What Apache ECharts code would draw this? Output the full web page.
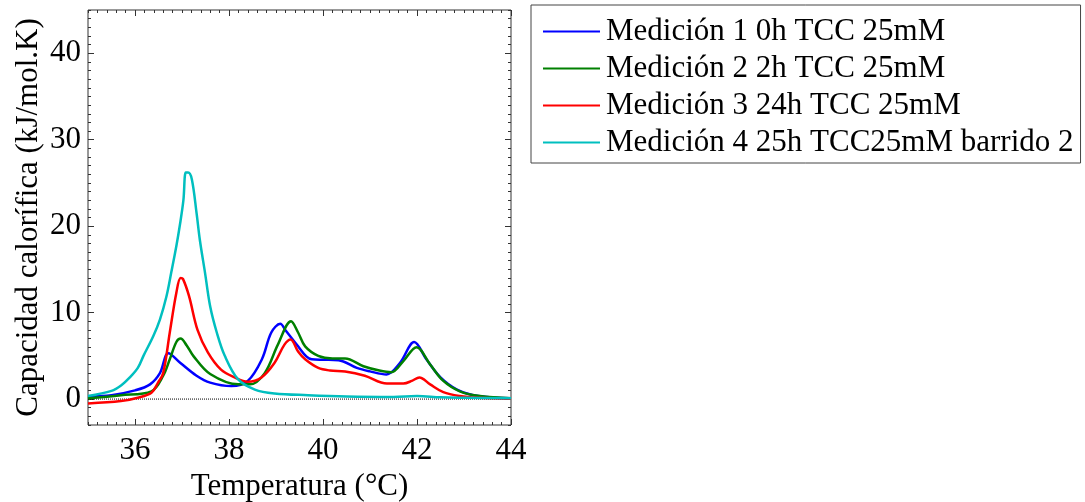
<!DOCTYPE html>
<html>
<head>
<meta charset="utf-8">
<script src="https://cdn.jsdelivr.net/npm/echarts@6/dist/echarts.min.js"></script>
<style>
html,body{margin:0;padding:0;background:#fff;}
#chart{width:1085px;height:502px;}
</style>
</head>
<body>
<div id="chart"></div>
<script>
// ---- data ----
const seriesNames = [
  'Medición 1 0h TCC 25mM',
  'Medición 2 2h TCC 25mM',
  'Medición 3 24h TCC 25mM',
  'Medición 4 25h TCC25mM barrido 2'
];
const xTicks = [36, 38, 40, 42, 44];
const yTicks = [0, 10, 20, 30, 40];

const m1T = [35, 35.5, 36.0, 36.32, 36.53, 36.71, 36.96, 37.31, 37.6, 38.05, 38.4, 38.7, 38.9, 39.09, 39.21, 39.47, 39.65, 39.76, 40.0, 40.33, 40.72, 41.0, 41.35, 41.64, 41.94, 42.2, 42.5, 42.85, 43.3, 44];
const m1V = [0.3, 0.45, 1.0, 1.7, 3.0, 5.3, 4.2, 2.7, 1.9, 1.5, 2.1, 4.6, 7.7, 8.7, 7.9, 6.1, 4.9, 4.6, 4.55, 4.5, 3.6, 3.2, 2.85, 4.2, 6.6, 4.6, 2.5, 1.1, 0.35, 0.1];

const m2T = [35, 35.7, 36.35, 36.6, 36.74, 36.88, 36.97, 37.1, 37.24, 37.6, 38.2, 38.45, 38.76, 39.04, 39.32, 39.47, 39.62, 39.9, 40.2, 40.47, 40.86, 41.2, 41.45, 41.71, 41.99, 42.28, 42.56, 42.91, 43.34, 44];
const m2V = [0.1, 0.45, 0.9, 2.7, 4.6, 6.6, 7.0, 6.2, 5.0, 2.9, 1.7, 1.7, 3.0, 6.3, 9.0, 7.7, 6.1, 5.0, 4.7, 4.7, 3.8, 3.3, 3.1, 4.4, 6.0, 4.0, 2.1, 0.9, 0.35, 0.1];

const m3T = [35, 35.7, 36.06, 36.35, 36.49, 36.6, 36.74, 36.88, 36.97, 37.02, 37.15, 37.33, 37.55, 37.83, 38.12, 38.4, 38.69, 38.97, 39.18, 39.31, 39.47, 39.62, 39.9, 40.15, 40.47, 40.89, 41.36, 41.71, 41.89, 42.05, 42.28, 42.56, 42.91, 43.3, 44];
const m3V = [-0.5, -0.23, 0.16, 0.74, 1.9, 3.0, 7.7, 12.3, 14.0, 13.9, 11.9, 8.0, 5.4, 3.4, 2.5, 2.0, 2.5, 4.2, 6.3, 6.9, 5.5, 4.6, 3.6, 3.3, 3.2, 2.7, 1.8, 1.8, 2.1, 2.5, 1.7, 0.8, 0.35, 0.15, 0.05];

const m4T = [35, 35.5, 35.71, 35.89, 36.06, 36.18, 36.39, 36.53, 36.67, 36.77, 36.88, 36.96, 37.03, 37.08, 37.13, 37.21, 37.31, 37.38, 37.49, 37.6, 37.74, 37.91, 38.19, 38.55, 38.97, 39.68, 40.5, 41.5, 42.0, 42.5, 43.0, 44];
const m4V = [0.35, 0.95, 1.6, 2.5, 3.6, 5.0, 7.3, 9.2, 11.9, 14.6, 17.7, 20.3, 23.0, 26.2, 26.2, 25.4, 21.5, 18.4, 14.6, 10.7, 7.7, 5.0, 2.3, 1.1, 0.65, 0.45, 0.3, 0.25, 0.35, 0.2, 0.15, 0.1];

const zeroLineT = [35, 44];
const zeroLineV = [0, 0];

// ---- chart ----
const colors = ['#0000ff', '#008000', '#ff0000', '#00bfbf'];
const pair = (t, v) => t.map((x, i) => [x, v[i]]);
const dataSets = [pair(m1T, m1V), pair(m2T, m2V), pair(m3T, m3V), pair(m4T, m4V)];

const FONT = 'Liberation Serif';
const FS = 31;
const frame = '#333';

function xAx(extra) {
  return Object.assign({
    type: 'value', min: 35, max: 44, interval: 0.2,
    axisLine: { show: false, onZero: false },
    splitLine: { show: false },
    axisLabel: { show: false },
    axisTick: { show: true, inside: true, length: 3, lineStyle: { color: frame, width: 1 } }
  }, extra);
}
function yAx(extra) {
  return Object.assign({
    type: 'value', min: -3, max: 45, interval: 1,
    axisLine: { show: false, onZero: false },
    splitLine: { show: false },
    axisLabel: { show: false },
    axisTick: { show: true, inside: true, length: 3, lineStyle: { color: frame, width: 1 } }
  }, extra);
}
const majorTick = (vals) => ({ show: true, inside: true, length: 6, customValues: vals, lineStyle: { color: frame, width: 1 } });

const option = {
  animation: false,
  backgroundColor: '#fff',
  grid: {
    left: 88, top: 10, width: 423, height: 415,
    containLabel: false, outerBoundsMode: 'none',
    show: true, borderColor: frame, borderWidth: 1, backgroundColor: 'transparent'
  },
  legend: {
    data: seriesNames,
    orient: 'vertical',
    left: 531, top: 5,
    padding: [11, 7, 5, 12],
    itemGap: 6,
    itemWidth: 57, itemHeight: 2,
    icon: 'rect',
    borderColor: '#444', borderWidth: 1,
    textStyle: { fontFamily: FONT, fontSize: FS, color: '#000', lineHeight: 30, padding: [0, 0, 0, 1] }
  },
  xAxis: [
    xAx({
      position: 'bottom',
      name: 'Temperatura (°C)', nameLocation: 'middle', nameGap: 44,
      nameTextStyle: { fontFamily: FONT, fontSize: FS, color: '#000' },
      axisLabel: { show: true, customValues: xTicks, fontFamily: FONT, fontSize: FS, color: '#000', margin: 10 }
    }),
    xAx({ position: 'bottom', axisTick: majorTick(xTicks) }),
    xAx({ position: 'top' }),
    xAx({ position: 'top', axisTick: majorTick(xTicks) })
  ],
  yAxis: [
    yAx({
      position: 'left',
      name: 'Capacidad calorífica (kJ/mol.K)', nameLocation: 'middle', nameGap: 44,
      nameTextStyle: { fontFamily: FONT, fontSize: FS, color: '#000' },
      axisLabel: { show: true, customValues: yTicks, fontFamily: FONT, fontSize: FS, color: '#000', margin: 7 }
    }),
    yAx({ position: 'left', axisTick: majorTick(yTicks) }),
    yAx({ position: 'right' }),
    yAx({ position: 'right', axisTick: majorTick(yTicks) })
  ],
  series: [
    {
      name: 'zero', type: 'line', data: pair(zeroLineT, zeroLineV),
      symbol: 'none', silent: true, z: 1,
      lineStyle: { color: '#000', width: 1, type: [1, 1] }
    }
  ].concat(dataSets.map((d, i) => ({
    name: seriesNames[i], type: 'line', data: d,
    symbol: 'none', smooth: 0.35, z: 2 + i,
    color: colors[i],
    lineStyle: { color: colors[i], width: 2.5 }
  })))
};

const chart = echarts.init(document.getElementById('chart'), null, { renderer: 'canvas' });
chart.setOption(option);
</script>
</body>
</html>
